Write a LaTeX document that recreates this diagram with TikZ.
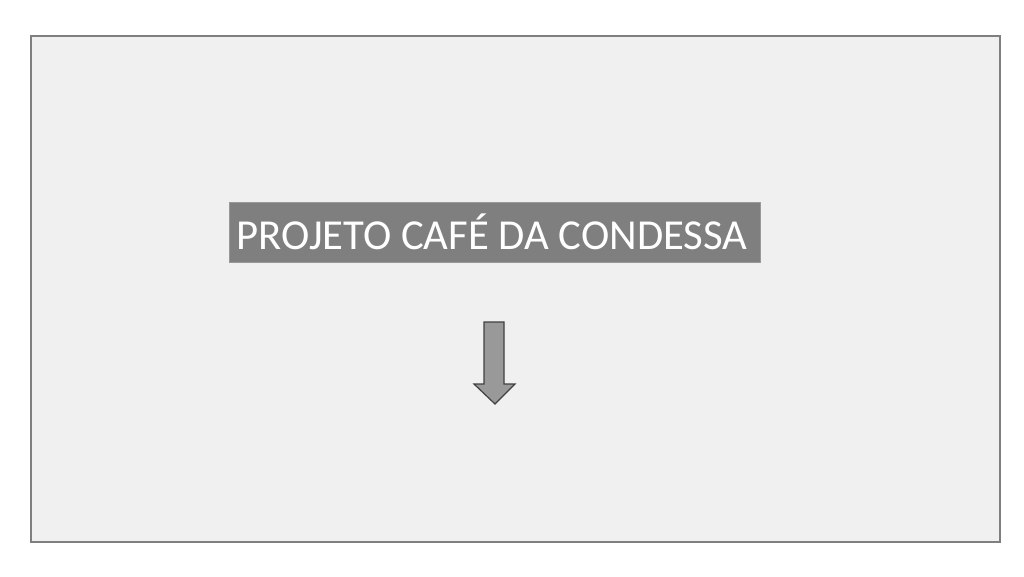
\documentclass[tikz,border=0pt]{standalone}
\usepackage{fontspec}
\setmainfont{Carlito}
\definecolor{panelbg}{HTML}{F0F0F0}
\definecolor{panelline}{HTML}{7F7F7F}
\definecolor{titlebg}{HTML}{7F7F7F}
\definecolor{arrowfill}{HTML}{999999}
\definecolor{arrowline}{HTML}{404040}
\begin{document}
\begin{tikzpicture}[x=1pt,y=-1pt,
  panel/.style={draw=panelline,line width=1.2pt,fill=panelbg},
  titlebox/.style={draw=panelline!80,line width=0.8pt,fill=titlebg,text=white,
     minimum width=531pt,minimum height=60pt,inner sep=0pt,
     font=\fontsize{42.7}{42.7}\selectfont},
  blockarrow/.style={draw=arrowline,line width=1.2pt,fill=arrowfill,line join=miter}]
\useasboundingbox (0,0) rectangle (1024,576);
\fill[white] (0,0) rectangle (1024,576);
\node[panel,minimum width=969pt,minimum height=506pt,inner sep=0pt] (panel) at (515.5,289) {};
\node[titlebox] (title) at (494.5,232) {\hspace*{-5pt}PROJETO CAFÉ DA CONDESSA};
\draw[blockarrow] (484,322) -- (504,322) -- (504,384) -- (515,384) -- (495,404) -- (474,384) -- (484,384) -- cycle;
\end{tikzpicture}
\end{document}
